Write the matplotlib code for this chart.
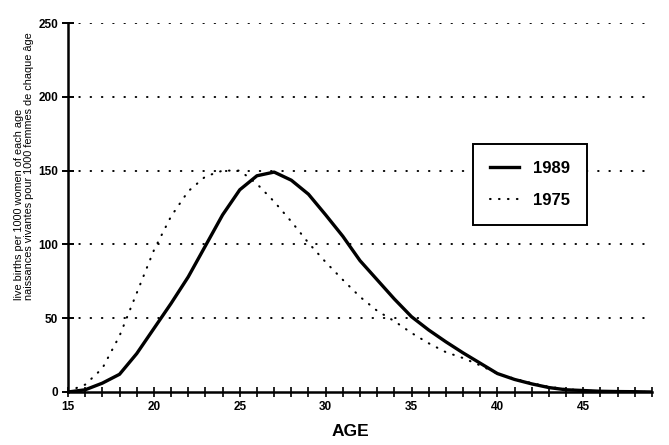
import matplotlib
matplotlib.use("Agg")
import matplotlib.pyplot as plt
from matplotlib.lines import Line2D

ages = list(range(15, 50))
rates_1989 = [0, 1.5, 6, 12, 26, 43, 60, 78, 99, 120, 137, 146.5, 149, 143.5, 134,
              120, 105.5, 89, 76, 63, 51, 42, 34, 26.5, 19.5, 12.5, 8.5, 5.5, 3, 1.5,
              1, 0.5, 0.3, 0.2, 0]
rates_1975 = [0.5, 5, 16, 38, 67, 96, 119, 136, 146, 150, 150, 141, 129, 115.5, 101,
              88, 76, 64.5, 55, 48, 40, 33, 27, 23, 18, 12.5, 9, 6, 3.5, 2,
              1, 0.5, 0.3, 0.2, 0]
x_ticks = [15, 20, 25, 30, 35, 40, 45]
y_ticks = [0, 50, 100, 150, 200, 250]
series_labels = ["1989", "1975"]
x_label = "AGE"
y_label = "live births per 1000 women of each age\nnaissances vivantes pour 1000 femmes de chaque âge"

plt.rcParams['font.family'] = ['Liberation Sans', 'DejaVu Sans']

fig = plt.figure(figsize=(6.69, 4.45), dpi=100)
ax = fig.add_axes([68/669, 1-392/445, (652-68)/669, (392-23)/445])

grid_style = (0, (0.3, 5.5))
for yv in y_ticks[1:]:
    ax.axhline(yv, color='black', lw=1.4, linestyle=grid_style,
               dash_capstyle='round', zorder=1)

ax.plot(ages, rates_1975, color='black', lw=1.5, linestyle=(0, (0.3, 4.0)),
        dash_capstyle='round', zorder=3)
ax.plot(ages, rates_1989, color='black', lw=2.4, solid_joinstyle='round', zorder=4)

ax.set_xlim(15, 49)
ax.set_ylim(0, 250)
ax.set_xticks(x_ticks)
ax.set_xticks(ages, minor=True)
ax.set_yticks(y_ticks)
ax.set_xticklabels([str(v) for v in x_ticks], fontsize=8.5, fontweight='bold')
ax.set_yticklabels([str(v) for v in y_ticks], fontsize=8.5, fontweight='bold')

for s in ['top', 'right']:
    ax.spines[s].set_visible(False)
ax.spines['left'].set_linewidth(1.8)
ax.spines['bottom'].set_linewidth(1.8)

ax.tick_params(axis='x', which='both', direction='inout', length=7, width=1.2, pad=3)
ax.tick_params(axis='y', which='major', direction='inout', length=8, width=1.4, pad=3)

fig.text(350/669, 1-432/445, x_label, ha='center', va='center',
         fontsize=12.5, fontweight='bold')
fig.text(24/669, 1-300/445, y_label, rotation=90, ha='center', va='bottom',
         fontsize=7.8, multialignment='left', linespacing=1.05)

handles = [Line2D([], [], color='black', lw=2.4),
           Line2D([], [], color='black', lw=1.5, linestyle=(0, (0.3, 4.0)),
                  dash_capstyle='round')]
leg = ax.legend(handles, series_labels, loc='upper left',
                bbox_to_anchor=((473-68)/584, (392-144)/369),
                borderaxespad=0, frameon=True, fancybox=False, framealpha=1,
                edgecolor='black', prop={'weight': 'bold', 'size': 12},
                handlelength=1.75, handletextpad=0.85, borderpad=1.0,
                labelspacing=1.05)
leg.get_frame().set_linewidth(1.4)
leg.set_zorder(5)

fig.savefig("out.png", dpi=100)
